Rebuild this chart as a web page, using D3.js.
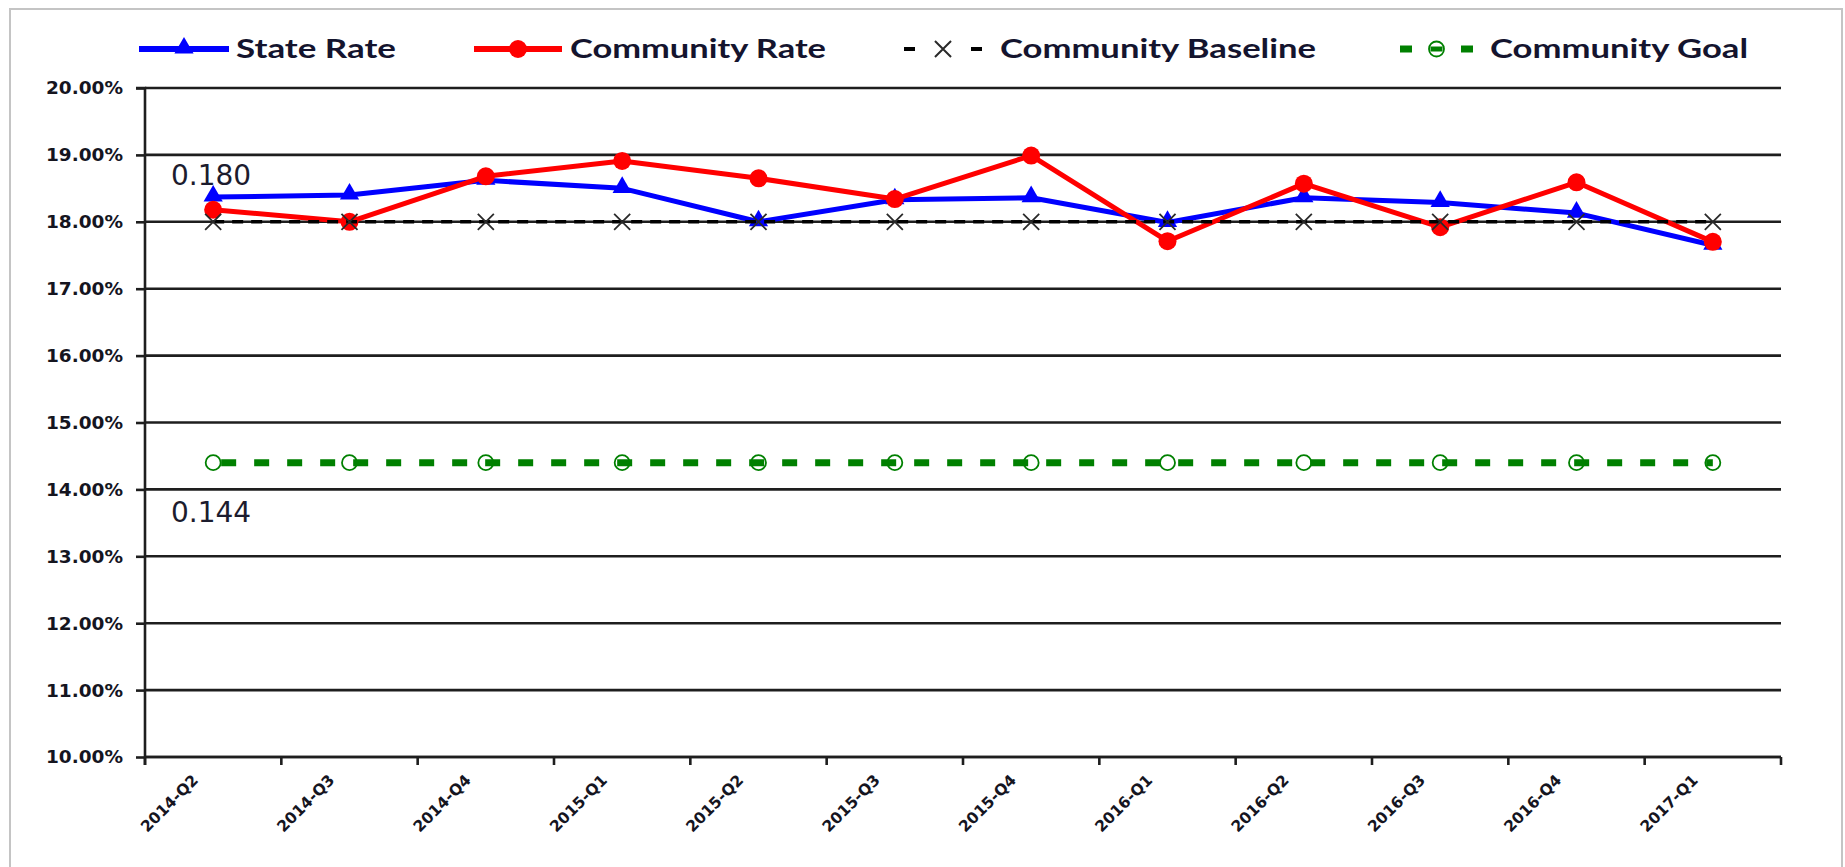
<!DOCTYPE html>
<html>
<head>
<meta charset="utf-8">
<script src="https://cdn.jsdelivr.net/npm/d3@7"></script>
<style>
  html, body { margin: 0; padding: 0; background: #ffffff; }
  svg { display: block; }
</style>
</head>
<body>
<svg id="chart" width="1845" height="867"></svg>
<script>
// Quarterly rates (fractions)
const categories = ["2014-Q2", "2014-Q3", "2014-Q4", "2015-Q1", "2015-Q2", "2015-Q3",
                    "2015-Q4", "2016-Q1", "2016-Q2", "2016-Q3", "2016-Q4", "2017-Q1"];
const stateRate = [0.1837, 0.1840, 0.1862, 0.1850, 0.1800, 0.1833,
                   0.1836, 0.1799, 0.1836, 0.1829, 0.1813, 0.1765];
const communityRate = [0.1818, 0.1800, 0.1868, 0.1891, 0.1865, 0.1834,
                       0.1899, 0.1771, 0.1857, 0.1792, 0.1859, 0.1770];
const communityBaseline = [0.180, 0.180, 0.180, 0.180, 0.180, 0.180,
                           0.180, 0.180, 0.180, 0.180, 0.180, 0.180];
const communityGoal = [0.144, 0.144, 0.144, 0.144, 0.144, 0.144,
                       0.144, 0.144, 0.144, 0.144, 0.144, 0.144];
const yTicks = [0.10, 0.11, 0.12, 0.13, 0.14, 0.15, 0.16, 0.17, 0.18, 0.19, 0.20];
const seriesNames = ["State Rate", "Community Rate", "Community Baseline", "Community Goal"];
const annotations = [{ value: 0.180, text: "0.180", dy: -37 }, { value: 0.144, text: "0.144", dy: 59 }];

const svg = d3.select("#chart");

// outer chart frame
svg.append("rect")
  .attr("x", 10).attr("y", 9).attr("width", 1832).attr("height", 880)
  .attr("fill", "#ffffff").attr("stroke", "#c4c4c4").attr("stroke-width", 2);

const plot = { left: 145, right: 1781, top: 88, bottom: 757 };

const x = d3.scaleBand().domain(categories).range([plot.left, plot.right]);
const y = d3.scaleLinear().domain([0.10, 0.20]).range([plot.bottom, plot.top]);
const cx = c => x(c) + x.bandwidth() / 2;

// horizontal gridlines
svg.append("g")
  .selectAll("line")
  .data(yTicks)
  .join("line")
  .attr("x1", plot.left).attr("x2", plot.right)
  .attr("y1", d => y(d)).attr("y2", d => y(d))
  .attr("stroke", "#1e1e1e").attr("stroke-width", 2.6);

// y axis
const yAxis = d3.axisLeft(y).tickValues(yTicks).tickSize(9).tickPadding(13)
  .tickFormat(d3.format(".2%"));
const gy = svg.append("g").attr("transform", `translate(${plot.left},0)`).call(yAxis);
gy.select(".domain").attr("stroke", "#1e1e1e").attr("stroke-width", 2.6)
  .attr("d", `M-9,${plot.top}H0V${plot.bottom + 8}`);
gy.selectAll(".tick line").attr("stroke", "#1e1e1e").attr("stroke-width", 2.6);
gy.selectAll(".tick text")
  .attr("font-family", "'DejaVu Sans', Verdana, sans-serif")
  .attr("font-weight", "bold").attr("font-size", 18.5)
  .attr("fill", "#15151f");

// x axis: ticks on category boundaries
const boundaries = categories.map(c => x(c)).concat([plot.right]);
const gx = svg.append("g");
gx.append("line")
  .attr("x1", plot.left).attr("x2", plot.right)
  .attr("y1", plot.bottom).attr("y2", plot.bottom)
  .attr("stroke", "#1e1e1e").attr("stroke-width", 2.6);
gx.selectAll("line.tk")
  .data(boundaries)
  .join("line").attr("class", "tk")
  .attr("x1", d => d).attr("x2", d => d)
  .attr("y1", plot.bottom).attr("y2", plot.bottom + 8)
  .attr("stroke", "#1e1e1e").attr("stroke-width", 2.6);
gx.selectAll("text")
  .data(categories)
  .join("text")
  .attr("transform", d => `translate(${cx(d) - 14},${plot.bottom + 24}) rotate(-45)`)
  .attr("text-anchor", "end")
  .attr("font-family", "'DejaVu Sans', Verdana, sans-serif")
  .attr("font-weight", "bold").attr("font-size", 15.5)
  .attr("fill", "#15151f")
  .text(d => d);

const line = d3.line().x(d => cx(d.c)).y(d => y(d.v));
const pts = arr => categories.map((c, i) => ({ c, v: arr[i] }));

// State Rate
svg.append("path").datum(pts(stateRate))
  .attr("d", line).attr("fill", "none")
  .attr("stroke", "#0000ff").attr("stroke-width", 5).attr("stroke-linejoin", "round");
const tri = d3.symbol().type(d3.symbolTriangle).size(160);
svg.append("g").selectAll("path")
  .data(pts(stateRate))
  .join("path")
  .attr("transform", d => `translate(${cx(d.c)},${y(d.v) - 1})`)
  .attr("d", tri).attr("fill", "#0000ff");

// Community Rate
svg.append("path").datum(pts(communityRate))
  .attr("d", line).attr("fill", "none")
  .attr("stroke", "#ff0000").attr("stroke-width", 5).attr("stroke-linejoin", "round");
svg.append("g").selectAll("circle")
  .data(pts(communityRate))
  .join("circle")
  .attr("cx", d => cx(d.c)).attr("cy", d => y(d.v)).attr("r", 9)
  .attr("fill", "#ff0000");

// Community Baseline
svg.append("path").datum(pts(communityBaseline))
  .attr("d", line).attr("fill", "none")
  .attr("stroke", "#000000").attr("stroke-width", 3.4).attr("stroke-dasharray", "11,8");
const cross = d3.symbol().type(d3.symbolX).size(170);
svg.append("g").selectAll("path")
  .data(pts(communityBaseline))
  .join("path")
  .attr("transform", d => `translate(${cx(d.c)},${y(d.v)})`)
  .attr("d", cross).attr("fill", "none").attr("stroke", "#2a2a2a").attr("stroke-width", 1.8);

// Community Goal
svg.append("path").datum(pts(communityGoal))
  .attr("d", line).attr("fill", "none")
  .attr("stroke", "#008000").attr("stroke-width", 7).attr("stroke-dasharray", "15,18")
  .attr("stroke-dashoffset", -8);
svg.append("g").selectAll("circle")
  .data(pts(communityGoal))
  .join("circle")
  .attr("cx", d => cx(d.c)).attr("cy", d => y(d.v)).attr("r", 7.5)
  .attr("fill", "none").attr("stroke", "#008000").attr("stroke-width", 1.8);

// value annotations
svg.append("g").selectAll("text")
  .data(annotations)
  .join("text")
  .attr("x", 171)
  .attr("y", d => y(d.value) + d.dy)
  .attr("font-family", "'DejaVu Sans', Verdana, sans-serif")
  .attr("font-size", 28).attr("fill", "#1c1c2e")
  .text(d => d.text);

// legend
const legendY = 49;
const legendFont = "Lato, 'Open Sans', sans-serif";
const lg = svg.append("g");
const legendItems = [
  { name: seriesNames[0], x0: 139, x1: 229, tx: 236, tw: 160 },
  { name: seriesNames[1], x0: 474, x1: 562, tx: 570, tw: 256 },
  { name: seriesNames[2], x0: 904, x1: 982, tx: 1000, tw: 316 },
  { name: seriesNames[3], x0: 1400, x1: 1473, tx: 1490, tw: 258 }
];
// State Rate key
lg.append("line").attr("x1", legendItems[0].x0).attr("x2", legendItems[0].x1)
  .attr("y1", legendY).attr("y2", legendY).attr("stroke", "#0000ff").attr("stroke-width", 6);
lg.append("path").attr("d", tri)
  .attr("transform", `translate(${(legendItems[0].x0 + legendItems[0].x1) / 2},${legendY - 1})`)
  .attr("fill", "#0000ff");
// Community Rate key
lg.append("line").attr("x1", legendItems[1].x0).attr("x2", legendItems[1].x1)
  .attr("y1", legendY).attr("y2", legendY).attr("stroke", "#ff0000").attr("stroke-width", 6);
lg.append("circle").attr("cx", (legendItems[1].x0 + legendItems[1].x1) / 2).attr("cy", legendY)
  .attr("r", 9).attr("fill", "#ff0000");
// Community Baseline key
const bm = (legendItems[2].x0 + legendItems[2].x1) / 2;
[[legendItems[2].x0, legendItems[2].x0 + 11], [legendItems[2].x1 - 11, legendItems[2].x1]].forEach(s => {
  lg.append("line").attr("x1", s[0]).attr("x2", s[1]).attr("y1", legendY).attr("y2", legendY)
    .attr("stroke", "#000000").attr("stroke-width", 4);
});
lg.append("path").attr("d", cross).attr("transform", `translate(${bm},${legendY})`)
  .attr("fill", "none").attr("stroke", "#2a2a2a").attr("stroke-width", 2);
// Community Goal key
const gm = (legendItems[3].x0 + legendItems[3].x1) / 2;
[[legendItems[3].x0, legendItems[3].x0 + 12], [legendItems[3].x1 - 12, legendItems[3].x1]].forEach(s => {
  lg.append("line").attr("x1", s[0]).attr("x2", s[1]).attr("y1", legendY).attr("y2", legendY)
    .attr("stroke", "#008000").attr("stroke-width", 7);
});
lg.append("line").attr("x1", gm - 6).attr("x2", gm + 6).attr("y1", legendY).attr("y2", legendY)
  .attr("stroke", "#008000").attr("stroke-width", 5);
lg.append("circle").attr("cx", gm).attr("cy", legendY).attr("r", 7.5)
  .attr("fill", "none").attr("stroke", "#008000").attr("stroke-width", 1.8);
// legend labels
lg.selectAll("text")
  .data(legendItems)
  .join("text")
  .attr("x", d => d.tx).attr("y", legendY + 9)
  .attr("font-family", legendFont).attr("font-weight", "bold").attr("font-size", 26)
  .attr("fill", "#14142e")
  .attr("textLength", d => d.tw).attr("lengthAdjust", "spacingAndGlyphs")
  .text(d => d.name);
</script>
</body>
</html>
